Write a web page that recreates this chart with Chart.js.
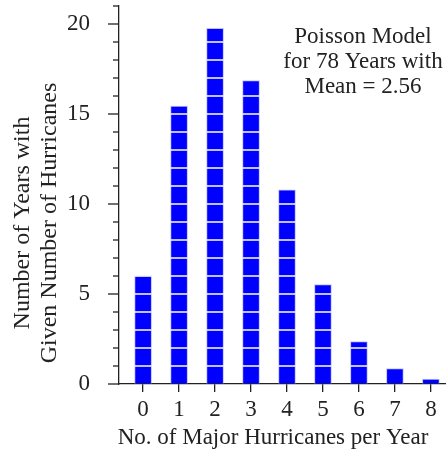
<!DOCTYPE html>
<html>
<head>
<meta charset="utf-8">
<script src="https://cdn.jsdelivr.net/npm/chart.js@4.4.1/dist/chart.umd.min.js"></script>
<style>
  html, body { margin: 0; padding: 0; background: #fff; }
  #wrap { width: 446px; height: 451px; }
</style>
</head>
<body>
<div id="wrap"><canvas id="chart"></canvas></div>
<script>
// data
const hurricanesPerYear = [0, 1, 2, 3, 4, 5, 6, 7, 8];
const yearsCount = [6.03, 15.44, 19.76, 16.86, 10.79, 5.53, 2.36, 0.86, 0.28];
const yLabelValues = [0, 5, 10, 15, 20];
const xTitle = 'No. of Major Hurricanes per Year';
const yTitle = ['Number of Years with', 'Given Number of Hurricanes'];
const noteLines = ['Poisson Model', 'for 78 Years with', 'Mean = 2.56'];

const FONT = "'Liberation Serif', 'DejaVu Serif', serif";
const INK = '#222';

// white line at every whole unit inside each bar
const stripes = {
  id: 'stripes',
  afterDatasetsDraw(chart) {
    const ctx = chart.ctx;
    const yScale = chart.scales.y;
    const meta = chart.getDatasetMeta(0);
    ctx.save();
    ctx.strokeStyle = '#fff';
    ctx.lineWidth = 1.5;
    meta.data.forEach((bar, i) => {
      const p = bar.getProps(['x', 'width'], true);
      for (let v = 1; v < yearsCount[i]; v++) {
        const yy = yScale.getPixelForValue(v);
        ctx.beginPath();
        ctx.moveTo(p.x - p.width / 2, yy);
        ctx.lineTo(p.x + p.width / 2, yy);
        ctx.stroke();
      }
    });
    ctx.restore();
  }
};

// y ticks: long at labelled values, short elsewhere; plus titles and note
const extras = {
  id: 'extras',
  afterDraw(chart) {
    const ctx = chart.ctx;
    const yScale = chart.scales.y;
    const left = chart.chartArea.left;
    ctx.save();
    ctx.strokeStyle = INK;
    ctx.lineWidth = 1.3;
    yScale.ticks.forEach(t => {
      const yy = yScale.getPixelForValue(t.value);
      const len = yLabelValues.includes(t.value) ? 11 : 6;
      ctx.beginPath();
      ctx.moveTo(left - len, yy);
      ctx.lineTo(left, yy);
      ctx.stroke();
    });

    ctx.fillStyle = INK;
    ctx.font = '23px ' + FONT;
    ctx.textAlign = 'center';
    ctx.textBaseline = 'middle';

    // x title
    ctx.fillText(xTitle, 273, 438);

    // y title (rotated)
    ctx.save();
    ctx.font = '24px ' + FONT;
    ctx.translate(23, 223);
    ctx.rotate(-Math.PI / 2);
    yTitle.forEach((line, i) => ctx.fillText(line, 0, i * 27));
    ctx.restore();

    // note
    noteLines.forEach((line, i) => ctx.fillText(line, 363, 37 + i * 25));
    ctx.restore();
  }
};

new Chart(document.getElementById('chart'), {
  type: 'bar',
  data: {
    datasets: [{
      data: hurricanesPerYear.map((h, i) => ({ x: h, y: yearsCount[i] })),
      backgroundColor: '#0000ff',
      borderColor: '#c0c0ff',
      borderWidth: 1,
      barThickness: 17
    }]
  },
  options: {
    responsive: true,
    maintainAspectRatio: false,
    animation: false,
    layout: { padding: { top: 6, right: 0, left: 0, bottom: 0 } },
    plugins: { legend: { display: false }, tooltip: { enabled: false } },
    scales: {
      x: {
        type: 'linear',
        offset: false,
        min: -0.67,
        max: 8.42,
        afterBuildTicks: s => { s.ticks = hurricanesPerYear.map(v => ({ value: v })); },
        afterFit: s => { s.height = 67; s.paddingLeft = 0; s.paddingRight = 0; },
        grid: { display: true, offset: false, drawOnChartArea: false, drawTicks: true, tickLength: 8, color: INK, lineWidth: 1.3 },
        border: { display: true, color: INK, width: 1.3 },
        ticks: { color: INK, padding: 4, maxRotation: 0, autoSkip: false, font: { family: FONT, size: 23 } }
      },
      y: {
        min: 0,
        max: 21,
        afterFit: s => { s.width = 119; s.paddingTop = 0; s.paddingBottom = 0; },
        grid: { display: true, drawOnChartArea: false, drawTicks: false },
        border: { display: true, color: INK, width: 1.3 },
        ticks: {
          stepSize: 1,
          autoSkip: false,
          padding: 29,
          color: INK,
          font: { family: FONT, size: 23 },
          callback: v => (yLabelValues.includes(v) ? String(v) : '')
        }
      }
    }
  },
  plugins: [stripes, extras]
});
</script>
</body>
</html>
